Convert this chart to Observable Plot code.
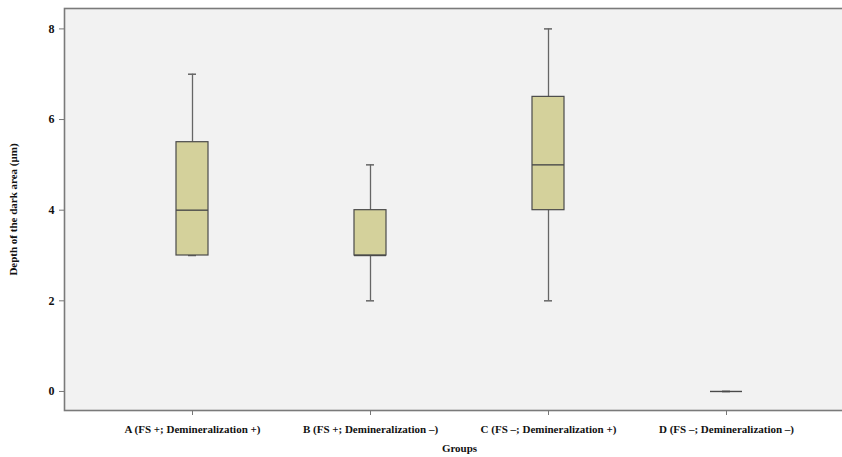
<!DOCTYPE html>
<html>
<head>
<meta charset="utf-8">
<script src="https://cdn.jsdelivr.net/npm/d3@7"></script>
<script src="https://cdn.jsdelivr.net/npm/@observablehq/plot@0.6"></script>
<style>
  html, body { margin: 0; padding: 0; background: #fff; overflow: hidden; }
  #wrap { width: 842px; height: 457px; overflow: hidden; }
  #wrap svg { max-width: none !important; font-family: "Liberation Serif", "Times New Roman", serif !important; }
  #wrap svg text { font-family: "Liberation Serif", "Times New Roman", serif !important; font-weight: bold; }
</style>
</head>
<body>
<div id="wrap"></div>
<script>
const groups = [
  "A (FS +; Demineralization +)",
  "B (FS +; Demineralization \u2013)",
  "C (FS \u2013; Demineralization +)",
  "D (FS \u2013; Demineralization \u2013)"
];
const mins    = [3, 2, 2, 0];
const q1s     = [3, 3, 4, 0];
const medians = [4, 3, 5, 0];
const q3s     = [5.5, 4, 6.5, 0];
const maxs    = [7, 5, 8, 0];
const yTicks  = [0, 2, 4, 6, 8];

const rows = groups.map((g, i) => ({
  group: g, min: mins[i], q1: q1s[i], median: medians[i], q3: q3s[i], max: maxs[i]
}));

const whisker = "#666666";
const boxStroke = "#4a4a4a";

const chart = Plot.plot({
  width: 854,
  height: 457,
  marginLeft: 64,
  marginRight: 0,
  marginTop: 8,
  marginBottom: 47,
  style: { fontWeight: "bold", fontSize: "10.5px", color: "#111", background: "#ffffff", maxWidth: "none" },
  x: { domain: groups, paddingInner: 0.82, paddingOuter: 0.629, axis: null },
  y: { domain: [-0.42, 8.45], axis: null },
  marks: [
    Plot.frame({ fill: "#f2f2f2", stroke: "#7a7a7a", strokeWidth: 1.6 }),
    Plot.axisY(yTicks, { tickSize: 5, tickPadding: 5, stroke: "#777", fontSize: 12, fontWeight: "bold", label: null }),
    Plot.axisX({ tickSize: 5, tickPadding: 10, stroke: "#777", fontSize: 11, fontWeight: "bold", label: null }),
    Plot.ruleX(rows, { x: "group", y1: "q3", y2: "max", stroke: whisker, strokeWidth: 1.3 }),
    Plot.ruleX(rows, { x: "group", y1: "min", y2: "q1", stroke: whisker, strokeWidth: 1.3 }),
    Plot.tickY(rows, { x: "group", y: "max", stroke: whisker, strokeWidth: 1.5, insetLeft: 12, insetRight: 12 }),
    Plot.tickY(rows, { x: "group", y: "min", stroke: whisker, strokeWidth: 1.5, insetLeft: 12, insetRight: 12 }),
    Plot.barY(rows, { x: "group", y1: "q1", y2: "q3", fill: "#d4d19b", stroke: boxStroke, strokeWidth: 1.2 }),
    Plot.tickY(rows, { x: "group", y: "median", stroke: boxStroke, strokeWidth: 1.4 }),
    Plot.text(["Depth of the dark area (\u03bcm)"], { frameAnchor: "left", textAnchor: "middle", dx: -51, rotate: -90, fontSize: 11, fontWeight: "bold", fill: "#111" }),
    Plot.text(["Groups"], { frameAnchor: "bottom", dy: 41, fontSize: 11, fontWeight: "bold", fill: "#111" })
  ]
});
document.getElementById("wrap").appendChild(chart);
</script>
</body>
</html>
